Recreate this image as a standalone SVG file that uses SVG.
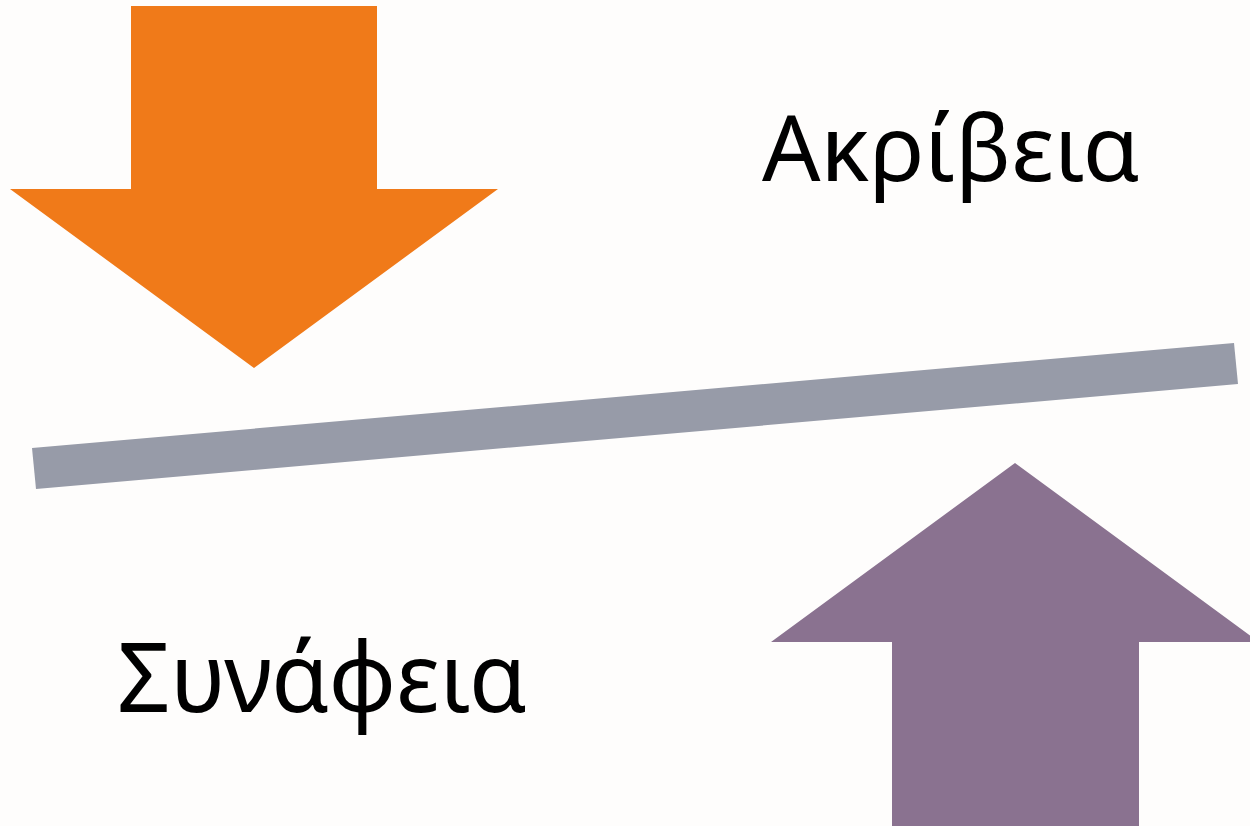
<svg xmlns="http://www.w3.org/2000/svg" width="1250" height="826" viewBox="0 0 1250 826">
<style>
.lbl{font-family:"Noto Sans","Open Sans","DejaVu Sans",sans-serif;fill:#000}
</style>
<rect width="1250" height="826" fill="#fefdfc"/>
<g id="arrow-down">
<polygon points="131,6 377,6 377,189 498,189 254,368 10,189 131,189" fill="#f07a19"/>
</g>
<g id="beam">
<polygon points="32,448 1234,343 1238,384 36,489" fill="#979ba8"/>
</g>
<g id="arrow-up">
<polygon points="1015,463 1259,642 1139,642 1139,826 892,826 892,642 771,642" fill="#8a7290"/>
</g>
<g id="label-akriveia">
<text class="lbl" x="762" y="181" font-size="92" textLength="378" lengthAdjust="spacingAndGlyphs">Ακρίβεια</text>
</g>
<g id="label-synafeia">
<text class="lbl" x="117" y="712" font-size="97" textLength="410" lengthAdjust="spacingAndGlyphs">Συνάφεια</text>
</g>
<g id="connectors"></g>
</svg>
